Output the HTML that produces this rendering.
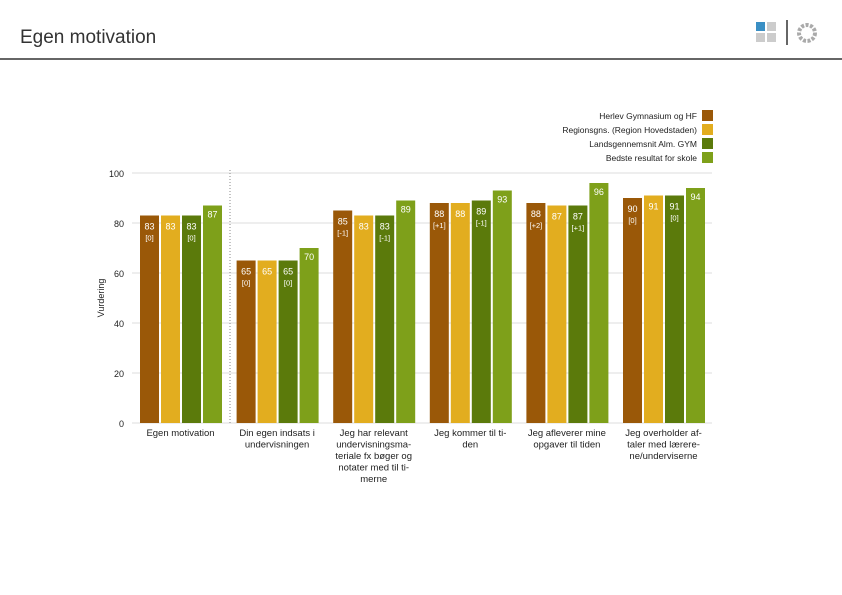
<!DOCTYPE html>
<html><head><meta charset="utf-8"><style>
body{margin:0;width:842px;height:595px;background:#fff;overflow:hidden;font-family:"Liberation Sans",sans-serif;position:relative}
</style></head><body>
<div style="position:absolute;left:20px;top:27px;font-size:19px;color:#333">Egen motivation</div>
<div style="position:absolute;left:0;top:58px;width:842px;height:2px;background:#666"></div>
<svg style="position:absolute;left:754px;top:20px" width="66" height="26">
<rect x="2" y="2" width="9" height="9" fill="#3a8fc4"/><rect x="13" y="2" width="9" height="9" fill="#ccc"/>
<rect x="2" y="13" width="9" height="9" fill="#ccc"/><rect x="13" y="13" width="9" height="9" fill="#ccc"/>
<rect x="32" y="0" width="2" height="25" fill="#666"/>
<circle cx="53" cy="13" r="8" fill="none" stroke="#aaa" stroke-width="4" stroke-dasharray="3 1.5"/>
</svg>
<svg id="chart" style="position:absolute;left:0;top:0" width="842" height="595"></svg>
<script>
const categories=[["Egen motivation"],["Din egen indsats i","undervisningen"],["Jeg har relevant","undervisningsma-","teriale fx bøger og","notater med til ti-","merne"],["Jeg kommer til ti-","den"],["Jeg afleverer mine","opgaver til tiden"],["Jeg overholder af-","taler med lærere-","ne/underviserne"]];
const seriesNames=["Herlev Gymnasium og HF","Regionsgns. (Region Hovedstaden)","Landsgennemsnit Alm. GYM","Bedste resultat for skole"];
const school=[83,65,85,88,88,90];
const region=[83,65,83,88,87,91];
const national=[83,65,83,89,87,91];
const best=[87,70,89,93,96,94];
const schoolDiff=["[0]","[0]","[-1]","[+1]","[+2]","[0]"];
const nationalDiff=["[0]","[0]","[-1]","[-1]","[+1]","[0]"];
const yTicks=[0,20,40,60,80,100];
const colors=["#9a5808","#e2ad1f","#5b7a0b","#7ea01a"];
const svg=document.getElementById('chart');const NS="http://www.w3.org/2000/svg";
function y(v){return 423-v*2.5}
function gx(i){return 140+i*96.6}
function mk(t,a,txt){const e=document.createElementNS(NS,t);for(const k in a)e.setAttribute(k,a[k]);if(txt!==undefined)e.textContent=txt;svg.appendChild(e);return e}
yTicks.forEach(t=>{
const l=mk('line',{x1:132,x2:712,y1:y(t),y2:y(t),stroke:'#ddd','stroke-width':1});


const tx=mk('text',{x:124,y:y(t)+4,'text-anchor':'end','font-size':9,fill:'#222'},t);


});
const yt=mk('text',{transform:'translate(104,298) rotate(-90)','text-anchor':'middle','font-size':9,fill:'#222'},'Vurdering');


const sep=mk('line',{x1:230,x2:230,y1:170,y2:423,stroke:'#888','stroke-dasharray':'1 2'});


const series=[school,region,national,best];
const diffs=[schoolDiff,null,nationalDiff,null];
categories.forEach((c,i)=>{
series.forEach((s,j)=>{
const x=gx(i)+j*21;
const r=mk('rect',{x:x,y:y(s[i]),width:19,height:423-y(s[i]),fill:colors[j]});


const ty=j==3?y(s[i])+12:y(s[i])+14;
const t=mk('text',{x:x+9.5,y:ty,'text-anchor':'middle','font-size':9,fill:'#fff'},s[i]);


if(diffs[j]){const d=mk('text',{x:x+9.5,y:ty+11,'text-anchor':'middle','font-size':7.5,fill:'#fff'},diffs[j][i]);

}
});
c.forEach((ln,k)=>{const t=mk('text',{x:gx(i)+40.5,y:436+k*11.5,'text-anchor':'middle','font-size':9.5,fill:'#222'},ln);

});
});
seriesNames.forEach((n,j)=>{
const r=mk('rect',{x:702,y:110+j*14,width:11,height:11,fill:colors[j]});


const t=mk('text',{x:697,y:119+j*14,'text-anchor':'end','font-size':8.5,fill:'#222'},n);


});
</script>
</body></html>
